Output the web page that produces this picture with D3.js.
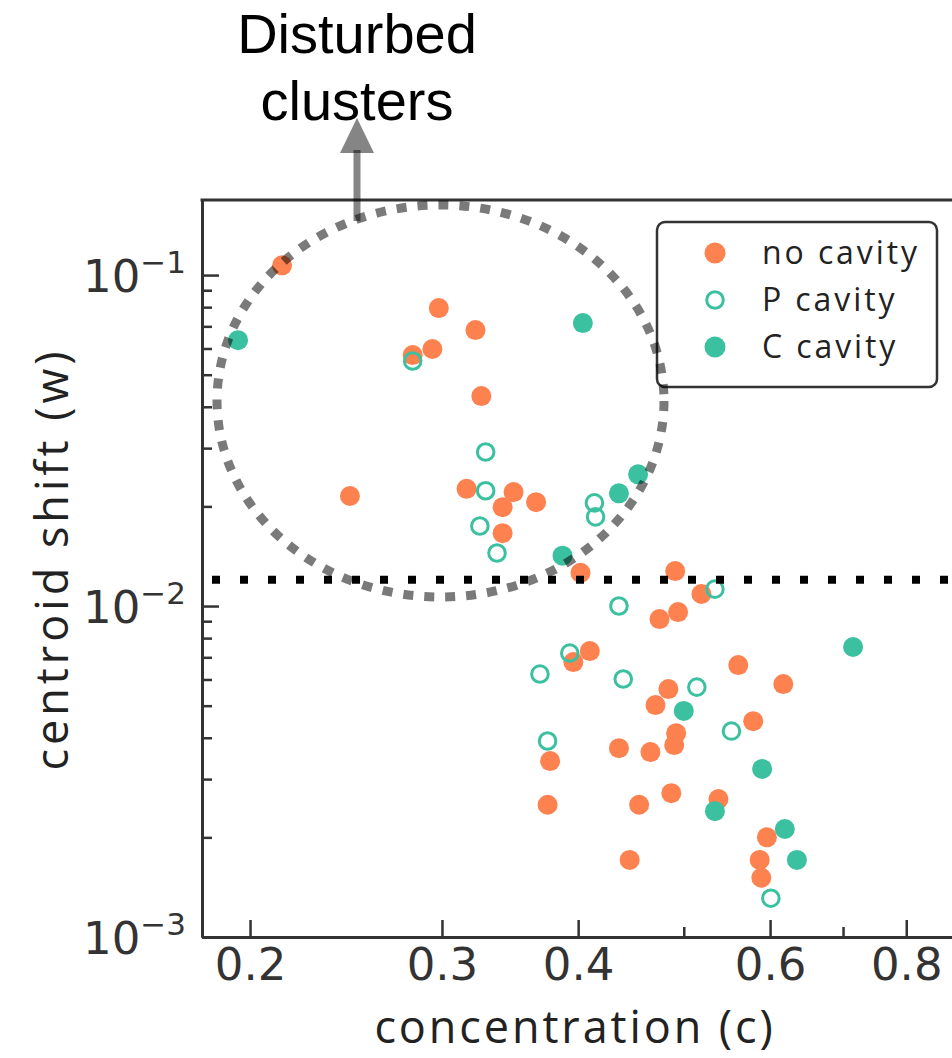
<!DOCTYPE html>
<html>
<head>
<meta charset="utf-8">
<script src="https://cdn.jsdelivr.net/npm/d3@7"></script>
<style>
  body { margin: 0; background: #fff; }
  svg { display: block; }
</style>
</head>
<body>
<script>
// data: concentration (c) and centroid shift (w)
var noCavityC = [0.214, 0.298, 0.322, 0.294, 0.282, 0.326, 0.247, 0.316, 0.349, 0.366, 0.341, 0.341,
                 0.402, 0.491, 0.519, 0.475, 0.494, 0.410, 0.396, 0.561, 0.484, 0.617, 0.471, 0.579,
                 0.492, 0.490, 0.436, 0.466, 0.377, 0.375, 0.455, 0.487, 0.538, 0.596, 0.446, 0.587, 0.589]
var noCavityW = [0.107, 0.0795, 0.0682, 0.0598, 0.0573, 0.0431, 0.0215, 0.0226, 0.0221, 0.0206, 0.0199, 0.0166,
                 0.0126, 0.01275, 0.01087, 0.00913, 0.00959, 0.00731, 0.00677, 0.00663, 0.00561, 0.00581, 0.00502, 0.00449,
                 0.00413, 0.00380, 0.00372, 0.00362, 0.00340, 0.00251, 0.00251, 0.00272, 0.00261, 0.00200, 0.00171, 0.00171, 0.00151]
var pCavityC = [0.282, 0.329, 0.329, 0.325, 0.337, 0.414, 0.415, 0.534, 0.436, 0.393, 0.369, 0.440, 0.514, 0.553, 0.375, 0.601]
var pCavityW = [0.0550, 0.0292, 0.0223, 0.01745, 0.01446, 0.0205, 0.0186, 0.01125, 0.0100, 0.00721, 0.00623, 0.00602,
                0.00569, 0.00419, 0.00391, 0.00131]
var cCavityC = [0.195, 0.404, 0.436, 0.454, 0.387, 0.715, 0.500, 0.590, 0.534, 0.619, 0.635]
var cCavityW = [0.0636, 0.0716, 0.0219, 0.0250, 0.0142, 0.00752, 0.00482, 0.00322, 0.00240, 0.00212, 0.00171]

var seriesNames = ["no cavity", "P cavity", "C cavity"]
var xTicks = [0.2, 0.3, 0.4, 0.6, 0.8]
var xMinorTicks = [0.5, 0.7]
var yTicks = [1e-3, 1e-2, 1e-1]
var yMinorTicks = [2e-3, 3e-3, 4e-3, 5e-3, 6e-3, 7e-3, 8e-3, 9e-3,
                   2e-2, 3e-2, 4e-2, 5e-2, 6e-2, 7e-2, 8e-2, 9e-2]
var threshold = 0.012

var orange = "#fe8150"
var teal = "#3cc1a0"
var ink = "#333"

var W = 952, H = 1058
var plotL = 202, plotR = 962, plotT = 200, plotB = 937

var svg = d3.select("body").append("svg")
    .attr("width", W)
    .attr("height", H)

var x = d3.scaleLog().domain([0.1807, 0.9]).range([plotL, plotR])
var y = d3.scaleLog().domain([1e-3, 0.1686]).range([plotB, plotT])

function zip(cs, ws) {
    return cs.map(function(c, i) { return [c, ws[i]] })
}

// Points
var plot = svg.append("g")

plot.selectAll(".nocav").data(zip(noCavityC, noCavityW)).enter()
    .append("circle")
    .attr("cx", function(d) { return x(d[0]) })
    .attr("cy", function(d) { return y(d[1]) })
    .attr("r", 10)
    .style("fill", orange)

plot.selectAll(".pcav").data(zip(pCavityC, pCavityW)).enter()
    .append("circle")
    .attr("cx", function(d) { return x(d[0]) })
    .attr("cy", function(d) { return y(d[1]) })
    .attr("r", 8.3)
    .style("fill", "none")
    .style("stroke", teal)
    .style("stroke-width", 3)

plot.selectAll(".ccav").data(zip(cCavityC, cCavityW)).enter()
    .append("circle")
    .attr("cx", function(d) { return x(d[0]) })
    .attr("cy", function(d) { return y(d[1]) })
    .attr("r", 10)
    .style("fill", teal)

// Threshold line
svg.append("line")
    .attr("x1", plotL + 10).attr("x2", W)
    .attr("y1", y(threshold)).attr("y2", y(threshold))
    .style("stroke", "#000")
    .style("stroke-width", 8)
    .style("stroke-dasharray", "8 20")

// Axes
var xAxis = svg.append("g")
    .attr("transform", "translate(0," + plotB + ")")
    .call(d3.axisBottom(x).tickValues(xTicks).tickFormat(d3.format(".1f"))
        .tickSizeInner(-17).tickSizeOuter(0).tickPadding(11))
svg.append("g")
    .attr("transform", "translate(0," + plotB + ")")
    .call(d3.axisBottom(x).tickValues(xMinorTicks).tickFormat("")
        .tickSizeInner(-10).tickSizeOuter(0))

var yAxis = svg.append("g")
    .attr("transform", "translate(" + plotL + ",0)")
    .call(d3.axisLeft(y).tickValues(yTicks).tickFormat("")
        .tickSizeInner(-17).tickSizeOuter(0).tickPadding(16))
svg.append("g")
    .attr("transform", "translate(" + plotL + ",0)")
    .call(d3.axisLeft(y).tickValues(yMinorTicks).tickFormat("")
        .tickSizeInner(-10).tickSizeOuter(0))

svg.selectAll(".domain").style("stroke", ink).style("stroke-width", 3)
svg.selectAll(".tick line").style("stroke", ink).style("stroke-width", 2.5)
svg.selectAll(".tick text")
    .style("font-family", "DejaVu Sans")
    .style("font-size", "45px")
    .style("fill", ink)

// 10^k labels
yAxis.selectAll(".tick text")
    .attr("dy", "0.36em")
    .each(function(d) {
        var t = d3.select(this)
        t.text(null)
        t.append("tspan").text("10")
        t.append("tspan")
            .attr("dy", "-0.6em")
            .style("font-size", "31px")
            .text("\u2212" + Math.round(-Math.log10(d)))
    })

// top spine
svg.append("line")
    .attr("x1", plotL - 1.5).attr("x2", W)
    .attr("y1", plotT).attr("y2", plotT)
    .style("stroke", ink).style("stroke-width", 3)

// Axis titles
svg.append("text")
    .attr("x", 575)
    .attr("y", 1043)
    .attr("text-anchor", "middle")
    .style("font-family", "Open Sans")
    .style("font-size", "45px")
    .style("letter-spacing", "2.9px")
    .style("fill", "#222")
    .text("concentration (c)")

svg.append("text")
    .attr("transform", "translate(68,559) rotate(-90)")
    .attr("text-anchor", "middle")
    .style("font-family", "Open Sans")
    .style("font-size", "45px")
    .style("letter-spacing", "4px")
    .style("fill", "#222")
    .text("centroid shift (w)")

// Legend
var legend = svg.append("g")
legend.append("rect")
    .attr("x", 657).attr("y", 222)
    .attr("width", 280).attr("height", 165)
    .attr("rx", 8)
    .style("fill", "#fff").style("fill-opacity", 0.85)
    .style("stroke", ink).style("stroke-width", 2.5)

seriesNames.forEach(function(name, i) {
    var ly = 253 + i * 47
    var m = legend.append("circle").attr("cx", 715).attr("cy", ly)
    if (i == 1) {
        m.attr("r", 8.3).style("fill", "none").style("stroke", teal).style("stroke-width", 3)
    } else {
        m.attr("r", 10.5).style("fill", i == 0 ? orange : teal)
    }
    legend.append("text")
        .attr("x", 762).attr("y", ly)
        .attr("dy", "0.35em")
        .style("font-family", "Open Sans")
        .style("font-size", "32px")
        .style("letter-spacing", "2.9px")
        .style("fill", "#222")
        .text(name)
})

// Annotation: dotted ellipse, arrow, label
svg.append("ellipse")
    .attr("cx", 440.5).attr("cy", 401)
    .attr("rx", 223.5).attr("ry", 196)
    .style("fill", "none")
    .style("stroke", "#000").style("stroke-opacity", 0.52)
    .style("stroke-width", 9)
    .style("stroke-dasharray", "10 11")

svg.append("line")
    .attr("x1", 357).attr("x2", 357)
    .attr("y1", 221).attr("y2", 150)
    .style("stroke", "#000").style("stroke-opacity", 0.48)
    .style("stroke-width", 7)
svg.append("path")
    .attr("d", "M357,118 L374,153 L340,153 Z")
    .style("fill", "#000").style("fill-opacity", 0.48)

var note = svg.append("text")
    .attr("text-anchor", "middle")
    .style("font-family", "Liberation Sans")
    .style("font-size", "56px")
    .style("fill", "#000")
note.append("tspan").attr("x", 357).attr("y", 53).text("Disturbed")
note.append("tspan").attr("x", 357).attr("y", 120).text("clusters")
</script>
</body>
</html>
